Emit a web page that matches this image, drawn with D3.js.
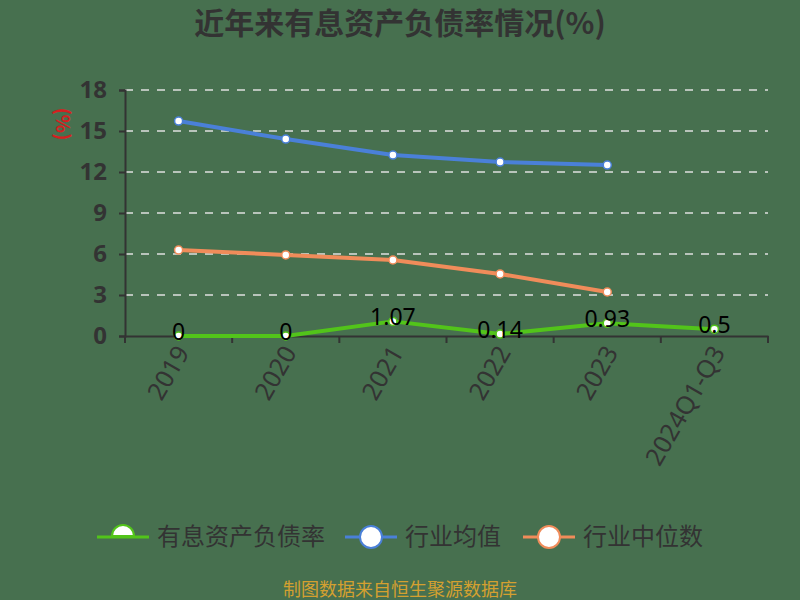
<!DOCTYPE html>
<html>
<head>
<meta charset="utf-8">
<script src="https://cdn.jsdelivr.net/npm/d3@7"></script>
<style>
  html, body { margin: 0; padding: 0; background: #47704f; }
  svg { display: block; font-family: "Noto Sans CJK SC", "Noto Sans", sans-serif; }
</style>
</head>
<body>
<svg id="chart" width="800" height="600"></svg>
<script>
const categories = ['2019', '2020', '2021', '2022', '2023', '2024Q1-Q3'];
const debtRate = [0, 0, 1.07, 0.14, 0.93, 0.5];
const industryAvg = [15.73, 14.41, 13.24, 12.73, 12.51];
const industryMedian = [6.29, 5.93, 5.56, 4.54, 3.22];
const yTicks = [0, 3, 6, 9, 12, 15, 18];

const series = [
  { name: '有息资产负债率', color: '#52c41a', values: debtRate, labels: true },
  { name: '行业均值', color: '#4a80d8', values: industryAvg },
  { name: '行业中位数', color: '#f08c5a', values: industryMedian },
];

const W = 800, H = 600;
const margin = { left: 125, right: 32, top: 90, bottom: 264 };
const svg = d3.select('#chart');
svg.append('rect').attr('width', W).attr('height', H).attr('fill', '#47704f');

const x = d3.scaleBand().domain(categories)
  .range([margin.left, W - margin.right]);
const y = d3.scaleLinear().domain([0, 18]).range([H - margin.bottom, margin.top]);

// title
svg.append('text')
  .attr('x', 400).attr('y', 34)
  .attr('text-anchor', 'middle')
  .attr('font-size', 30).attr('font-weight', 'bold')
  .attr('fill', '#333')
  .text('近年来有息资产负债率情况(%)');

// grid
svg.append('g').selectAll('line')
  .data(yTicks.filter(d => d > 0))
  .join('line')
  .attr('x1', margin.left).attr('x2', W - margin.right)
  .attr('y1', d => y(d)).attr('y2', d => y(d))
  .attr('stroke', '#e0e0e0').attr('stroke-width', 1.5)
  .attr('stroke-dasharray', '8,8');

// y axis
const yAxis = svg.append('g')
  .attr('transform', `translate(${margin.left},0)`)
  .call(d3.axisLeft(y).tickValues(yTicks).tickSize(6).tickPadding(12));
yAxis.select('.domain').attr('stroke', '#333').attr('stroke-width', 2);
yAxis.selectAll('.tick line').attr('stroke', '#333').attr('stroke-width', 2);
yAxis.selectAll('.tick text')
  .attr('font-size', 24).attr('font-weight', 'bold').attr('fill', '#333')
  .attr('font-family', '"Noto Sans", sans-serif');

svg.append('text')
  .attr('transform', `translate(56,124) rotate(90)`)
  .attr('text-anchor', 'middle')
  .attr('font-size', 19).attr('font-weight', 'bold').attr('fill', '#d42020')
  .text('(%)');

// x axis
const xAxis = svg.append('g')
  .attr('transform', `translate(0,${y(0)})`)
  .call(d3.axisBottom(x).tickSize(0).tickFormat(''));
xAxis.select('.domain').attr('stroke', '#333').attr('stroke-width', 2);
const tickPos = categories.map(c => x(c)).concat([x.range()[1]]);
xAxis.selectAll('.bt').data(tickPos).join('line')
  .attr('class', 'bt')
  .attr('x1', d => d).attr('x2', d => d)
  .attr('y1', 0).attr('y2', 7)
  .attr('stroke', '#333').attr('stroke-width', 2);
xAxis.selectAll('.xl').data(categories).join('text')
  .attr('class', 'xl')
  .attr('transform', d => `translate(${x(d) + x.bandwidth() / 2 + 4},12) rotate(-60)`)
  .attr('text-anchor', 'end')
  .attr('dy', '0.35em')
  .attr('font-size', 25).attr('fill', '#333')
  .attr('font-family', '"Noto Sans", sans-serif')
  .text(d => d);

const cx = (i) => x(categories[i]) + x.bandwidth() / 2;
const line = d3.line().x((d, i) => cx(i)).y(d => y(d));

series.slice().reverse().forEach(s => {
  const g = svg.append('g');
  g.append('path').datum(s.values)
    .attr('d', line).attr('fill', 'none')
    .attr('stroke', s.color).attr('stroke-width', 4)
    .attr('stroke-linejoin', 'round');
  g.selectAll('circle').data(s.values).join('circle')
    .attr('cx', (d, i) => cx(i)).attr('cy', d => y(d))
    .attr('r', 4).attr('fill', '#fff')
    .attr('stroke', s.color).attr('stroke-width', 1.5);
  if (s.labels) {
    g.selectAll('.lbl').data(s.values).join('text')
      .attr('class', 'lbl')
      .attr('x', (d, i) => cx(i)).attr('y', d => y(d) + 4)
      .attr('text-anchor', 'middle')
      .attr('font-size', 23).attr('fill', '#000')
      .attr('font-family', '"Noto Sans", sans-serif')
      .text(d => d);
  }
});

// legend
const legend = [
  { x: 97, tx: 157 },
  { x: 345, tx: 405 },
  { x: 523, tx: 583 },
];
series.forEach((s, i) => {
  const lg = svg.append('g').attr('transform', `translate(${legend[i].x},537)`);
  lg.append('line').attr('x1', 0).attr('x2', 52)
    .attr('stroke', s.color).attr('stroke-width', 3);
  if (i === 0) {
    lg.append('path')
      .attr('d', d3.arc()({ innerRadius: 0, outerRadius: 11, startAngle: -Math.PI / 2, endAngle: Math.PI / 2 }))
      .attr('transform', 'translate(26,-1)')
      .attr('fill', '#fff').attr('stroke', s.color).attr('stroke-width', 2);
  } else {
    lg.append('circle').attr('cx', 26).attr('cy', 0).attr('r', 11)
      .attr('fill', '#fff').attr('stroke', s.color).attr('stroke-width', 2);
  }
  svg.append('text')
    .attr('x', legend[i].tx).attr('y', 537).attr('dy', '0.35em')
    .attr('font-size', 24).attr('fill', '#333')
    .text(s.name);
});

svg.append('text')
  .attr('x', 400).attr('y', 590).attr('dy', '0.35em')
  .attr('text-anchor', 'middle')
  .attr('font-size', 18).attr('fill', '#d4a030')
  .text('制图数据来自恒生聚源数据库');
</script>
</body>
</html>
